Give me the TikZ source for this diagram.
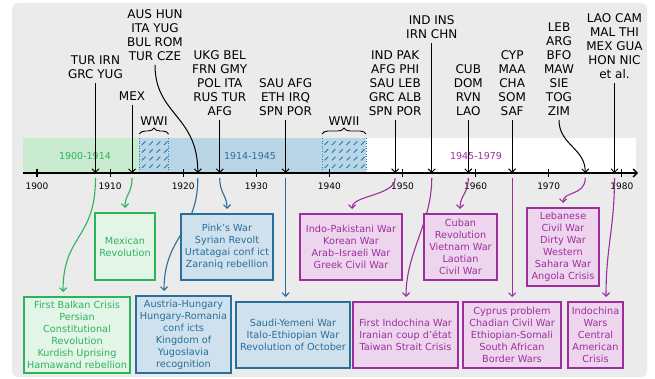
\documentclass[tikz,border=0pt]{standalone}
\usepackage{fontspec}
\setmainfont{DejaVu Sans}
\usetikzlibrary{arrows.meta, decorations.pathreplacing}

\definecolor{BgGray}{HTML}{EBEBEB}
\definecolor{Grn}{HTML}{2DB35E}
\definecolor{LGrn}{HTML}{E3F5E7}
\definecolor{BandGrn}{HTML}{C9EBD0}
\definecolor{Blu}{HTML}{2A6E9C}
\definecolor{LBlu}{HTML}{CEE1ED}
\definecolor{BandBlu}{HTML}{BAD6E6}
\definecolor{Hatch}{HTML}{1F7AB0}
\definecolor{Pur}{HTML}{9E2E9E}
\definecolor{LPur}{HTML}{EDD5ED}

\tikzset{
    cntlbl/.style={font=\fontsize{12}{14}\selectfont, align=center, inner xsep=0pt, inner ysep=4.5pt, anchor=south},
    toparrow/.style={draw=black, line width=1pt, -{Straight Barb[length=3.5pt,width=7pt]}},
    warbox/.style={draw, line width=1.4pt, align=center, inner sep=0pt, font=\fontsize{9.7}{12}\selectfont},
    grnbox/.style={warbox, draw=Grn, fill=LGrn, text=Grn},
    blubox/.style={warbox, draw=Blu, fill=LBlu, text=Blu},
    purbox/.style={warbox, draw=Pur, fill=LPur, text=Pur},
    grnline/.style={toparrow, draw=Grn, line width=1.1pt},
    bluline/.style={toparrow, draw=Blu, line width=1.1pt},
    purline/.style={toparrow, draw=Pur, line width=1.1pt},
    yrlbl/.style={font=\fontsize{9}{10}\selectfont, inner sep=0pt},
    eralbl/.style={font=\fontsize{9.5}{11}\selectfont, inner sep=0pt},
    wwbrace/.style={decorate, decoration={brace, amplitude=6pt}, line width=0.9pt},
}

\begin{document}
\begin{tikzpicture}[x=1pt, y=-1pt]

    \def\yrx#1{37+(#1-1900)*7.31}
    \def\axy{173}

    \useasboundingbox (0,0) rectangle (655,379);
    \fill[BgGray, rounded corners=6pt] (12,3) rectangle (647,377);

    % Eras
    \fill[BandGrn] (23,138) rectangle ({\yrx{1914}},\axy);
    \fill[BandBlu] ({\yrx{1914}},138) rectangle ({\yrx{1945}},\axy);
    \fill[white] ({\yrx{1945}},138) rectangle (636,\axy);
    \node[eralbl, text=Grn] (era-1) at (85,156) {1900-1914};
    \node[eralbl, text=Blu] (era-2) at (250,156) {1914-1945};
    \node[eralbl, text=Pur] (era-3) at (476,156) {1945-1979};

    % World wars
    \begin{scope}
        \clip ({\yrx{1914}},138) rectangle ({\yrx{1918}},\axy);
        \foreach \i in {0,...,3} {
            \foreach \j in {0,...,4} {
                \draw[Hatch, line width=0.9pt] ({\yrx{1914}+2.5+7.4*\i},{145+7.7*\j}) -- ++(3.6,-3.6);
            }
        }
    \end{scope}
    \begin{scope}
        \clip ({\yrx{1939}},138) rectangle ({\yrx{1945}},\axy);
        \foreach \i in {0,...,5} {
            \foreach \j in {0,...,4} {
                \draw[Hatch, line width=0.9pt] ({\yrx{1939}+2.5+7.3*\i},{145+7.7*\j}) -- ++(3.6,-3.6);
            }
        }
    \end{scope}
    \foreach \yy in {1914,1918,1939,1945} {
        \draw[Hatch, dotted, line width=0.6pt] ({\yrx{\yy}},138) -- ({\yrx{\yy}},\axy);
    }
    \draw[wwbrace] ({\yrx{1914}},134) -- ({\yrx{1918}},134) node[midway, above=8pt, font=\fontsize{12}{14}\selectfont, inner sep=0pt] (ww1) {WWI};
    \draw[wwbrace] ({\yrx{1939}},134) -- ({\yrx{1945}},134) node[midway, above=8pt, font=\fontsize{12}{14}\selectfont, inner sep=0pt] (ww2) {WWII};

    % Axis
    \coordinate (axl) at (23,\axy);
    \coordinate (axr) at (638,\axy);
    \draw[line width=1.3pt, -{Straight Barb[length=4pt,width=8pt]}] (axl) -- (axr);
    \foreach \yy in {1900,1910,...,1980} {
        \draw[line width=1.1pt] ({\yrx{\yy}},169) -- ({\yrx{\yy}},177);
        \node[yrlbl] (yr-\yy) at ({\yrx{\yy}},186) {\yy};
    }
    \foreach \yy in {1908,1913,1922,1925,1934,1949,1954,1959,1965,1975,1979} {
        \coordinate (ax-\yy) at ({\yrx{\yy}},\axy);
        \coordinate (bx-\yy) at ({\yrx{\yy}},178);
    }

    % Countries
    \node[cntlbl] (c1908) at ({\yrx{1908}},83) {TUR IRN\\GRC YUG};
    \node[cntlbl] (c1913) at ({\yrx{1913}},105) {MEX};
    \node[cntlbl] (c1922) at (155,65) {AUS HUN\\ITA YUG\\BUL ROM\\TUR CZE};
    \node[cntlbl] (c1925) at ({\yrx{1925}},120) {UKG BEL\\FRN GMY\\POL ITA\\RUS TUR\\AFG};
    \node[cntlbl] (c1934) at ({\yrx{1934}},120) {SAU AFG\\ETH IRQ\\SPN POR};
    \node[cntlbl] (c1949) at ({\yrx{1949}},120) {IND PAK\\AFG PHI\\SAU LEB\\GRC ALB\\SPN POR};
    \node[cntlbl] (c1954) at ({\yrx{1954}},43) {IND INS\\IRN CHN};
    \node[cntlbl] (c1959) at ({\yrx{1959}},120) {CUB\\DOM\\RVN\\LAO};
    \node[cntlbl] (c1965) at ({\yrx{1965}},120) {CYP\\MAA\\CHA\\SOM\\SAF};
    \node[cntlbl] (c1975) at (559,120) {LEB\\ARG\\BFO\\MAW\\SIE\\TOG\\ZIM};
    \node[cntlbl] (c1979) at ({\yrx{1979}},83) {LAO CAM\\MAL THI\\MEX GUA\\HON NIC\\et al.};

    \foreach \yy in {1908,1913,1925,1934,1949,1954,1959,1965,1979} {
        \draw[toparrow] (c\yy.south) -- (ax-\yy);
    }
    \draw[toparrow] (c1922.south) .. controls +(0,50) and +(0,-58) .. (ax-1922);
    \draw[toparrow] (c1975.south) .. controls +(0,25) and +(0,-25) .. (ax-1975);

    % Wars: end points of the links
    \coordinate (in-mexrev) at (125,208);
    \coordinate (in-balkan) at (63,292);
    \coordinate (in-pinks) at (227,209);
    \coordinate (in-austria) at (164,291);
    \coordinate (in-saudi) at ({\yrx{1934}},297);
    \coordinate (in-indopak) at (352,209);
    \coordinate (in-indochina) at (406,297);
    \coordinate (in-cuban) at (460,209);
    \coordinate (in-cyprus) at ({\yrx{1965}},297);
    \coordinate (in-lebanese) at (563,203);
    \coordinate (in-indowars) at (606,297);

    % Links (drawn first, the boxes hide them)
    \draw[grnline] (bx-1913) .. controls +(0,16) and +(0,-14) .. (in-mexrev);
    \draw[grnline] (bx-1908) .. controls +(0,62) and +(0,-58) .. (in-balkan);
    \draw[bluline] (bx-1925) .. controls +(0,16) and +(0,-14) .. (in-pinks);
    \draw[bluline] (bx-1922) .. controls +(0,55) and +(0,-55) .. (in-austria);
    \draw[bluline] (bx-1934) -- (in-saudi);
    \draw[purline] (bx-1949) .. controls +(0,18) and +(0,-14) .. (in-indopak);
    \draw[purline] (bx-1954) .. controls +(0,45) and +(0,-45) .. (in-indochina);
    \draw[purline] (bx-1959) .. controls +(0,16) and +(0,-14) .. (in-cuban);
    \draw[purline] (bx-1965) -- (in-cyprus);
    \draw[purline] (bx-1975) .. controls +(0,18) and +(0,-12) .. (in-lebanese);
    \draw[purline] (bx-1979) .. controls +(0,50) and +(0,-50) .. (in-indowars);

    % Wars
    \node[grnbox, minimum width=60pt, minimum height=67pt] (mexrev) at (125,246.5) {Mexican\\Revolution};
    \node[grnbox, minimum width=106pt, minimum height=76pt] (balkan) at (77,335) {First Balkan Crisis\\Persian\\Constitutional\\Revolution\\Kurdish Uprising\\Hamawand rebellion};
    \node[blubox, minimum width=92pt, minimum height=66pt] (pinks) at (227,247) {Pink’s War\\Syrian Revolt\\Urtatagai conf ict\\Zaraniq rebellion};
    \node[blubox, minimum width=95pt, minimum height=77pt] (austria) at (183.5,334.5) {Austria-Hungary\\Hungary-Romania\\conf icts\\Kingdom of\\Yugoslavia\\recognition};
    \node[blubox, minimum width=114pt, minimum height=66pt] (saudi) at (293,335) {Saudi-Yemeni War\\Italo-Ethiopian War\\Revolution of October};
    \node[purbox, minimum width=102pt, minimum height=66pt] (indopak) at (351,247) {Indo-Pakistani War\\Korean War\\Arab–Israeli War\\Greek Civil War};
    \node[purbox, minimum width=105pt, minimum height=66pt] (indochina) at (405.5,335) {First Indochina War\\Iranian coup d’état\\Taiwan Strait Crisis};
    \node[purbox, minimum width=73pt, minimum height=66pt] (cuban) at (460.5,247) {Cuban\\Revolution\\Vietnam War\\Laotian\\Civil War};
    \node[purbox, minimum width=98pt, minimum height=66pt] (cyprus) at (512,335) {Cyprus problem\\Chadian Civil War\\Ethiopian-Somali\\South African\\Border Wars};
    \node[purbox, minimum width=72pt, minimum height=78pt] (lebanese) at (563,247) {Lebanese\\Civil War\\Dirty War\\Western\\Sahara War\\Angola Crisis};
    \node[purbox, minimum width=55pt, minimum height=66pt] (indowars) at (595.5,335) {Indochina\\Wars\\Central\\American\\Crisis};

\end{tikzpicture}
\end{document}
